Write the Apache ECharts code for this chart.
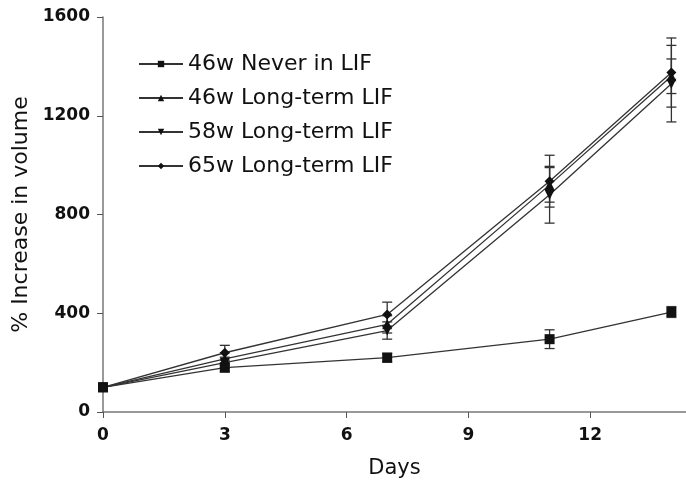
<!DOCTYPE html>
<html>
<head>
<meta charset="utf-8">
<script src="https://cdn.jsdelivr.net/npm/echarts@6/dist/echarts.min.js"></script>
<style>
  html, body { margin: 0; padding: 0; background: #fff; }
  #chart { width: 686px; height: 487px; }
</style>
</head>
<body>
<div id="chart"></div>
<script>
var days = [0, 3, 7, 11, 14];
var xTicks = [0, 3, 6, 9, 12];

var never46 = [100, 180, 220, 295, 405];
var never46Err = [12, 18, 18, 38, 22];
var lt46 = [100, 215, 355, 920, 1360];
var lt46Err = [10, 25, 35, 70, 70];
var lt58 = [100, 200, 330, 880, 1330];
var lt58Err = [10, 22, 35, 115, 155];
var lt65 = [100, 240, 395, 935, 1375];
var lt65Err = [10, 30, 50, 105, 140];

var names = ['46w Never in LIF', '46w Long-term LIF', '58w Long-term LIF', '65w Long-term LIF'];

var ink = '#111';
var font = 'DejaVu Sans';

function pairs(vals) {
    return days.map(function (d, i) { return [d, vals[i]]; });
}

function errData(vals, errs) {
    return days.map(function (d, i) { return [d, vals[i] - errs[i], vals[i] + errs[i]]; });
}

// vertical bar with caps
function renderErr(params, api) {
    var lo = api.coord([api.value(0), api.value(1)]);
    var hi = api.coord([api.value(0), api.value(2)]);
    var w = 5;
    var st = { stroke: '#333', lineWidth: 1.3 };
    return {
        type: 'group',
        children: [
            { type: 'line', shape: { x1: lo[0], y1: lo[1], x2: hi[0], y2: hi[1] }, style: st },
            { type: 'line', shape: { x1: lo[0] - w, y1: lo[1], x2: lo[0] + w, y2: lo[1] }, style: st },
            { type: 'line', shape: { x1: hi[0] - w, y1: hi[1], x2: hi[0] + w, y2: hi[1] }, style: st }
        ]
    };
}

function lineSeries(name, vals, symbol, rot) {
    return {
        name: name,
        type: 'line',
        data: pairs(vals),
        symbol: symbol,
        symbolSize: 10,
        symbolRotate: rot || 0,
        z: 3,
        lineStyle: { color: '#333', width: 1.3 },
        itemStyle: { color: '#111' }
    };
}

function errSeries(vals, errs) {
    return {
        type: 'custom',
        renderItem: renderErr,
        data: errData(vals, errs),
        z: 2,
        silent: true
    };
}

var chart = echarts.init(document.getElementById('chart'));

chart.setOption({
    animation: false,
    backgroundColor: '#fff',
    grid: { left: 103, right: 0, top: 17, bottom: 75 },
    legend: {
        orient: 'vertical',
        left: 138,
        top: 53,
        padding: 0,
        itemWidth: 44,
        itemHeight: 8,
        itemGap: 12,
        data: names,
        textStyle: { fontFamily: font, fontSize: 22, color: ink }
    },
    xAxis: {
        type: 'value',
        min: 0,
        max: 14.36,
        interval: 3,
        name: 'Days',
        nameLocation: 'middle',
        nameGap: 46,
        nameTextStyle: { fontFamily: font, fontSize: 21, color: ink },
        splitLine: { show: false },
        axisLine: { lineStyle: { color: '#777', width: 1.5 } },
        axisTick: { length: 6, lineStyle: { color: '#555' }, customValues: xTicks },
        axisLabel: { margin: 15, fontFamily: font, fontSize: 17, fontWeight: 'bold', color: ink, customValues: xTicks }
    },
    yAxis: {
        type: 'value',
        min: 0,
        max: 1600,
        interval: 400,
        name: '% Increase in volume',
        nameLocation: 'middle',
        nameGap: 66,
        nameTextStyle: { fontFamily: font, fontSize: 22, color: ink },
        splitLine: { show: false },
        axisLine: { show: true, lineStyle: { color: '#777', width: 1.5 } },
        axisTick: { show: true, length: 6, lineStyle: { color: '#555' } },
        axisLabel: {
            margin: 13, fontFamily: font, fontSize: 17, fontWeight: 'bold', color: ink,
            formatter: function (v) { return String(v); }
        }
    },
    series: [
        errSeries(never46, never46Err),
        errSeries(lt46, lt46Err),
        errSeries(lt58, lt58Err),
        errSeries(lt65, lt65Err),
        lineSeries(names[0], never46, 'rect'),
        lineSeries(names[1], lt46, 'triangle'),
        lineSeries(names[2], lt58, 'triangle', 180),
        lineSeries(names[3], lt65, 'diamond')
    ]
});
</script>
</body>
</html>
